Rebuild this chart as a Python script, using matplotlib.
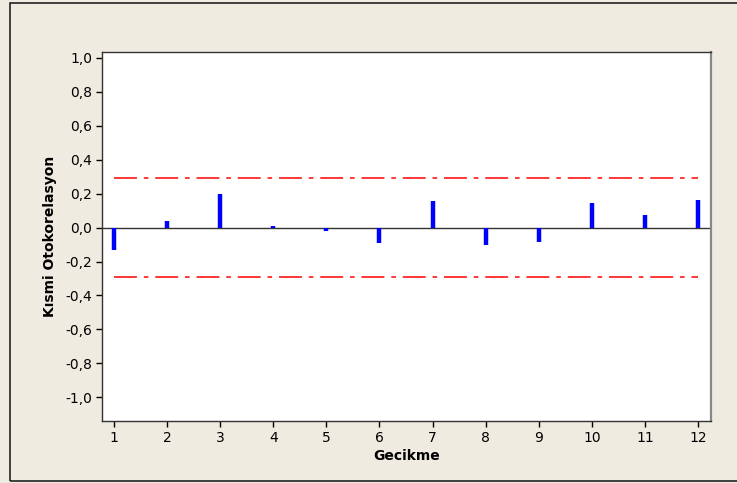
import matplotlib
matplotlib.use("Agg")
import matplotlib.pyplot as plt
from matplotlib.patches import Rectangle

plt.rcParams["font.family"] = "DejaVu Sans"
plt.rcParams["font.size"] = 10

# partial autocorrelation values
lags = [1, 2, 3, 4, 5, 6, 7, 8, 9, 10, 11, 12]
pacf = [-0.135, 0.04, 0.20, 0.01, -0.02, -0.093, 0.157, -0.10, -0.087, 0.143, 0.076, 0.165]
limit = 0.29
yticks = [-1.0, -0.8, -0.6, -0.4, -0.2, 0.0, 0.2, 0.4, 0.6, 0.8, 1.0]

bg = "#efebe1"
fig = plt.figure(figsize=(7.37, 4.83), dpi=100, facecolor=bg)
fig.patches.append(Rectangle((10 / 737, 2 / 483), 730 / 737, 478 / 483,
                             transform=fig.transFigure, fill=False,
                             edgecolor="#222222", linewidth=1.2))

ax = fig.add_axes([102 / 737, 62 / 483, 609 / 737, 369 / 483])
ax.set_facecolor("white")

ax.axhline(0, color="#333333", linewidth=1.0, zorder=1)
ax.vlines(lags, 0, pacf, colors="#0000ff", linewidth=3.2, zorder=3)
ax.hlines([limit, -limit], lags[0], lags[-1], colors="#ff0000", linewidth=1.1,
          linestyles=(0, (15, 4.5, 3, 4.5)), zorder=2)

ax.set_xlim(0.775, 12.245)
ax.set_ylim(-1.14, 1.035)
ax.set_xticks(lags)
ax.set_yticks(yticks)
ax.set_yticklabels([f"{v:.1f}".replace(".", ",") for v in yticks])
ax.tick_params(direction="out", length=4, width=1, colors="black", pad=3)

for s in ax.spines.values():
    s.set_color("#333333")
    s.set_linewidth(1.0)
ax.spines["right"].set_color("#888888")
ax.spines["right"].set_linewidth(1.6)

ax.set_xlabel("Gecikme", fontweight="bold", labelpad=3)
ax.set_ylabel("Kısmi Otokorelasyon", fontweight="bold", labelpad=6)

fig.savefig("out.png", dpi=100, facecolor=bg)
